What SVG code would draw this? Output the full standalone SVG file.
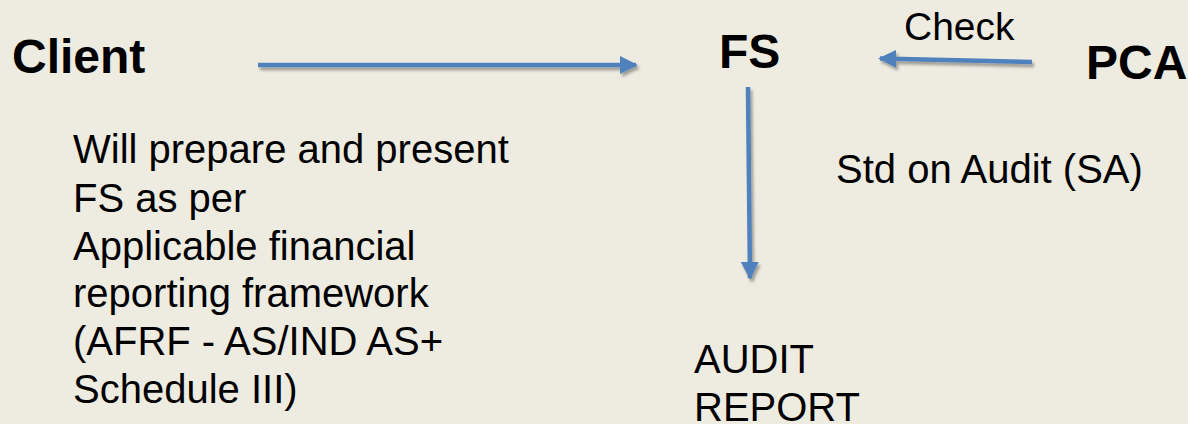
<svg xmlns="http://www.w3.org/2000/svg" width="1188" height="424" viewBox="0 0 1188 424">
  <defs>
    <style>
      .title { font-family: "Liberation Sans", Arial, sans-serif; font-weight: bold; font-size: 48px; fill: #000; }
      .body { font-family: "Liberation Sans", Arial, sans-serif; font-size: 40px; fill: #000; }
      .label { font-family: "Liberation Sans", Arial, sans-serif; font-size: 39px; fill: #000; }
      .conn { stroke: #4F81BD; stroke-width: 4.5; fill: none; marker-end: url(#head); }
    </style>
    <marker id="head" viewBox="0 0 10 10" refX="9" refY="5" markerWidth="4" markerHeight="4" orient="auto" markerUnits="strokeWidth">
      <path d="M0,0 L10,5 L0,10 Z" fill="#4F81BD"/>
    </marker>
    <filter id="shadow" x="-10%" y="-50%" width="120%" height="200%">
      <feGaussianBlur in="SourceAlpha" stdDeviation="1.5"/>
      <feOffset dx="1.5" dy="3" result="off"/>
      <feComponentTransfer><feFuncA type="linear" slope="0.35"/></feComponentTransfer>
      <feMerge><feMergeNode/><feMergeNode in="SourceGraphic"/></feMerge>
    </filter>
  </defs>

  <rect width="1188" height="424" fill="#EEEBE0"/>

  <g id="connectors" filter="url(#shadow)">
    <line class="conn" x1="258" y1="65" x2="636" y2="65"/>
    <line class="conn" x1="1032" y1="62" x2="880" y2="58.5"/>
    <line class="conn" x1="748" y1="87" x2="750" y2="278"/>
  </g>

  <g id="client">
    <text class="title" x="12" y="73">Client</text>
  </g>

  <g id="client-note">
    <text class="body" x="73" y="163">Will prepare and present</text>
    <text class="body" x="73" y="212">FS as per</text>
    <text class="body" x="73" y="260">Applicable financial</text>
    <text class="body" x="73" y="307">reporting framework</text>
    <text class="body" x="73" y="355">(AFRF - AS/IND AS+</text>
    <text class="body" x="73" y="403">Schedule III)</text>
  </g>

  <g id="fs">
    <text class="title" x="719" y="68">FS</text>
  </g>

  <g id="pca">
    <text class="title" x="1086" y="79">PCA</text>
  </g>

  <g id="check-label">
    <text class="label" x="904" y="40">Check</text>
  </g>

  <g id="sa-note">
    <text class="body" x="836" y="183">Std on Audit (SA)</text>
  </g>

  <g id="audit-report">
    <text class="body" x="694" y="373">AUDIT</text>
    <text class="body" x="694" y="421">REPORT</text>
  </g>
</svg>
